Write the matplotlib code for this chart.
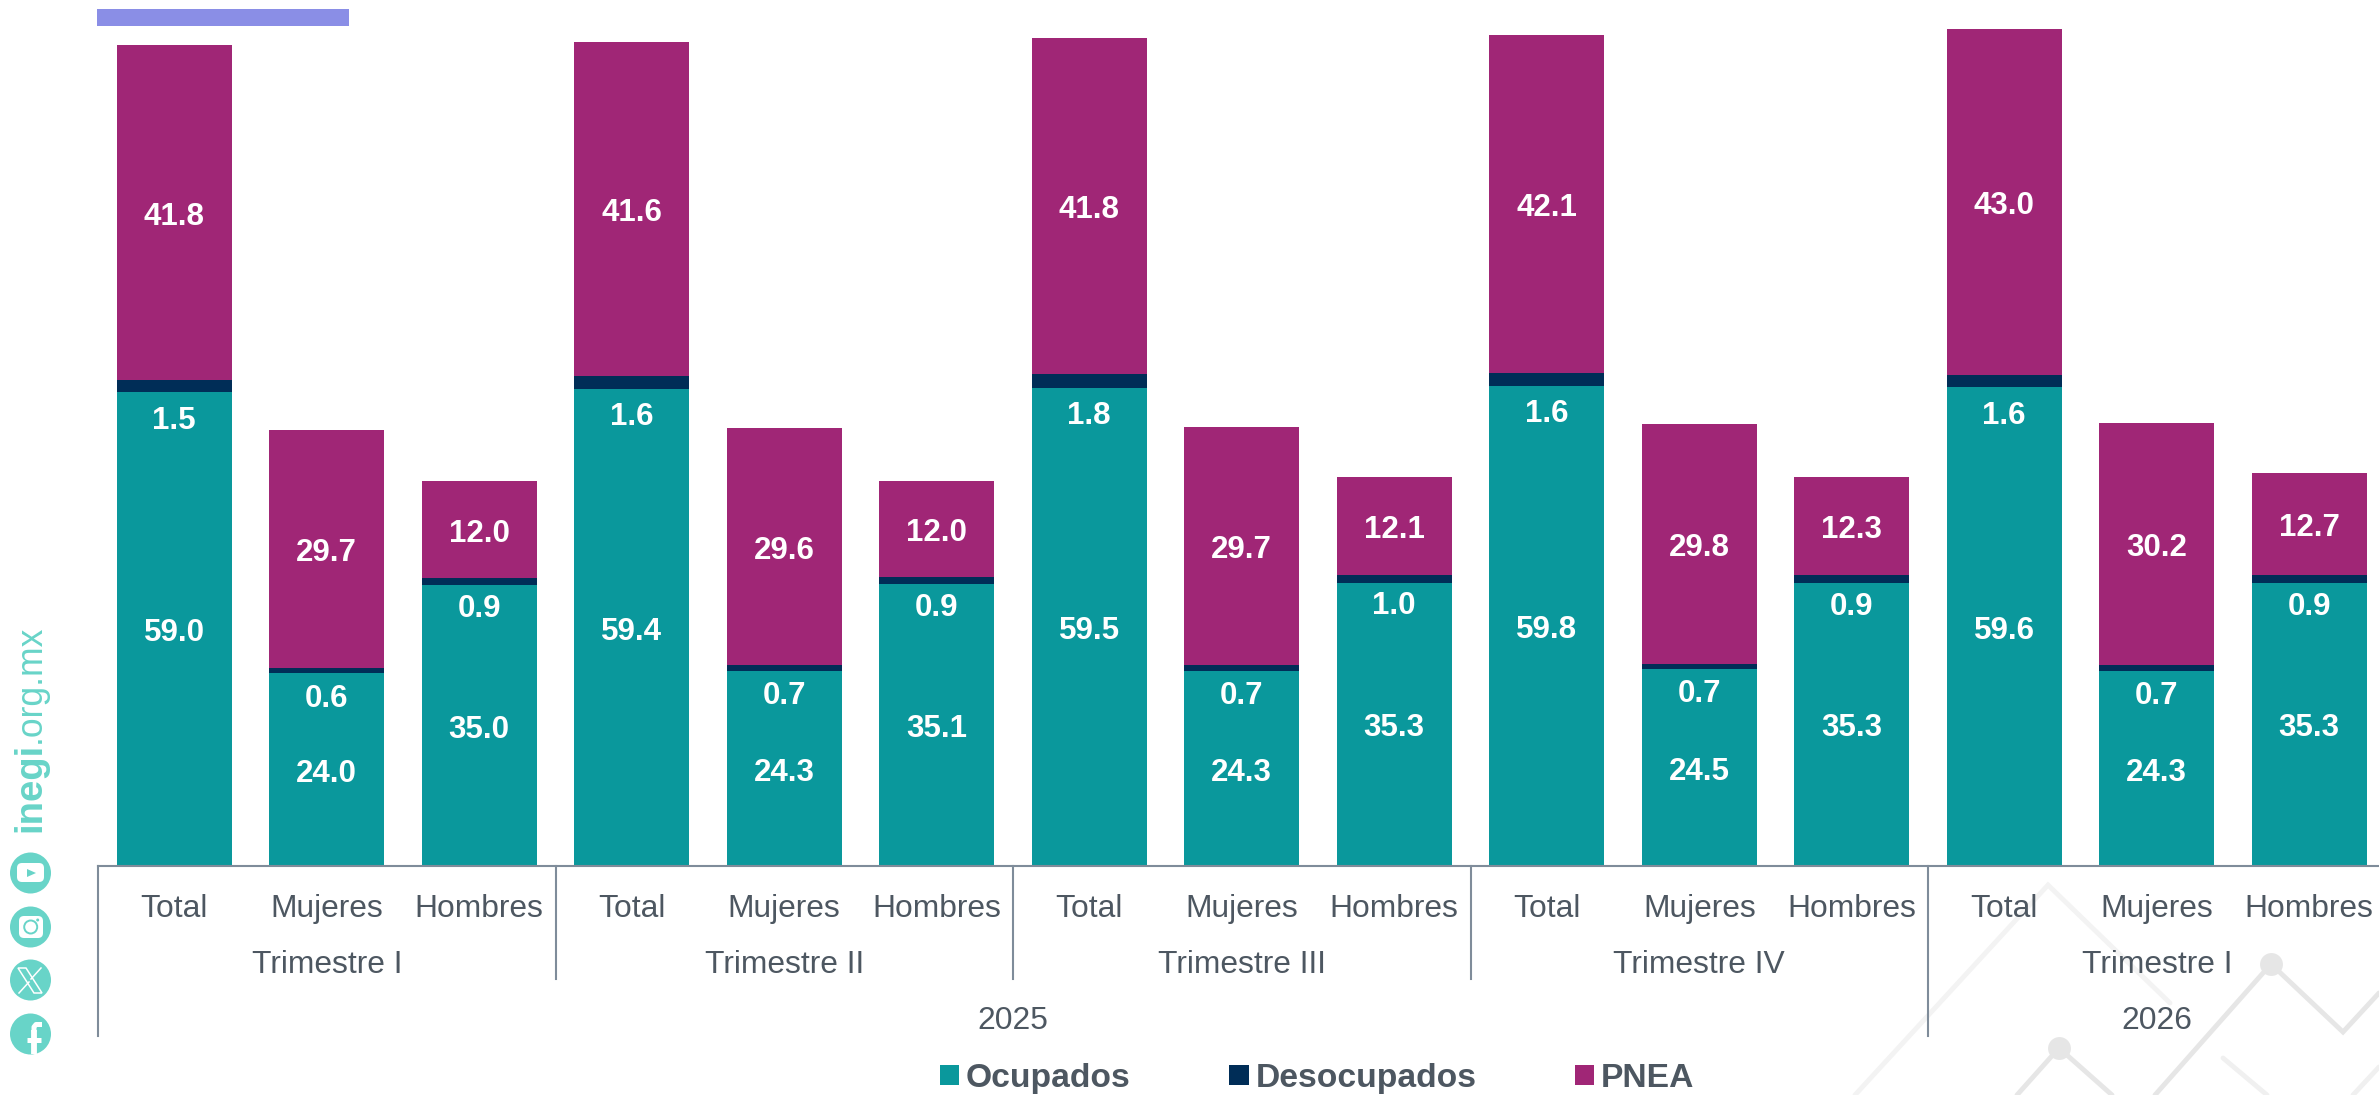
import matplotlib
matplotlib.use("Agg")
import matplotlib.pyplot as plt
from matplotlib.lines import Line2D
from matplotlib.patches import Circle, Rectangle, FancyBboxPatch

plt.rcParams['font.family'] = ['Liberation Sans', 'DejaVu Sans']

W, H = 2379, 1095

CATEGORIES = ["Total", "Mujeres", "Hombres"] * 5
QUARTERS = ["Trimestre I", "Trimestre II", "Trimestre III", "Trimestre IV", "Trimestre I"]
YEARS = ["2025", "2026"]
YEAR_SPANS = [4, 1]

OCUPADOS = [59.0, 24.0, 35.0, 59.4, 24.3, 35.1, 59.5, 24.3, 35.3, 59.8, 24.5, 35.3, 59.6, 24.3, 35.3]
DESOCUPADOS = [1.5, 0.6, 0.9, 1.6, 0.7, 0.9, 1.8, 0.7, 1.0, 1.6, 0.7, 0.9, 1.6, 0.7, 0.9]
PNEA = [41.8, 29.7, 12.0, 41.6, 29.6, 12.0, 41.8, 29.7, 12.1, 42.1, 29.8, 12.3, 43.0, 30.2, 12.7]

TEAL = "#0A989C"
NAVY = "#002D57"
PURPLE = "#A02676"
TEXT = "#4D5761"
AXIS = "#7F8C9A"
MINT = "#68D4C8"

# pixel layout of the original
STEP = 152.5
LEFT = 98
BASE = 866
PX_PER_UNIT = 8.03


def fx(px):
    return px / W


def fy(py):
    return 1 - py / H


fig = plt.figure(figsize=(W / 100, H / 100), dpi=100)
ax = fig.add_axes([fx(LEFT), fy(BASE), 1 - fx(LEFT), BASE / H])
ax.set_xlim(-0.5, (W - LEFT) / STEP - 0.5)
ax.set_ylim(0, BASE / PX_PER_UNIT)
ax.patch.set_alpha(0)
ax.set_zorder(2)

x = list(range(len(CATEGORIES)))
bottom2 = [a + b for a, b in zip(OCUPADOS, DESOCUPADOS)]
bars1 = ax.bar(x, OCUPADOS, 0.754, color=TEAL, label="Ocupados")
bars2 = ax.bar(x, DESOCUPADOS, 0.754, bottom=OCUPADOS, color=NAVY, label="Desocupados")
bars3 = ax.bar(x, PNEA, 0.754, bottom=bottom2, color=PURPLE, label="PNEA")

lab = dict(color="white", fontsize=22.5, fontweight="bold", ha="center", va="center",
           textcoords="offset points")
for i in x:
    ax.annotate(f"{OCUPADOS[i]:.1f}", (i, OCUPADOS[i] / 2), xytext=(0, -3), **lab)
    ax.annotate(f"{PNEA[i]:.1f}", (i, bottom2[i] + PNEA[i] / 2), xytext=(0, -3), **lab)
    # the thin segment has its label just under it
    off = -25 if CATEGORIES[i] == "Total" else -20
    ax.annotate(f"{DESOCUPADOS[i]:.1f}", (i, OCUPADOS[i] + DESOCUPADOS[i] / 2), xytext=(0, off), **lab)

for s in ["top", "right", "left"]:
    ax.spines[s].set_visible(False)
ax.spines["bottom"].set_color(AXIS)
ax.spines["bottom"].set_linewidth(1.5)
ax.set_yticks([])
ax.set_xticks(x)
ax.set_xticklabels(CATEGORIES, fontsize=22.9, color=TEXT)
ax.tick_params(axis="x", length=0, pad=20)

# multi level axis
for q, name in enumerate(QUARTERS):
    ax.annotate(name, (3 * q + 1, 0), xytext=(0, -(965 - BASE) * 0.72), textcoords="offset points",
                ha="center", va="center", fontsize=22.9, color=TEXT, annotation_clip=False)
start = 0
for year, span in zip(YEARS, YEAR_SPANS):
    ax.annotate(year, (start + (3 * span - 1) / 2, 0), xytext=(0, -(1021 - BASE) * 0.72),
                textcoords="offset points", ha="center", va="center", fontsize=22.9, color=TEXT,
                annotation_clip=False)
    start += 3 * span

year_edges = [0, 12]
for e in range(0, 15, 3):
    px = LEFT + e * STEP
    end = 1036 if e in year_edges else 979
    fig.add_artist(Line2D([fx(px)] * 2, [fy(BASE), fy(end)], color=AXIS, lw=1.5, zorder=1))

handles = [bars1, bars2, bars3]
leg = fig.legend(handles=handles, labels=["Ocupados", "Desocupados", "PNEA"], ncol=3, frameon=False,
                 loc="lower left", bbox_to_anchor=(fx(940), fy(1094)), borderpad=0, borderaxespad=0,
                 handlelength=0.57, handleheight=0.57, handletextpad=0.2, columnspacing=2.94,
                 prop={"size": 24.2, "weight": "bold"}, labelcolor=TEXT)

# accent bar at the top
fig.add_artist(Rectangle((fx(97), fy(26)), 252 / W, 17 / H, transform=fig.transFigure,
                         color="#8A8EE6", lw=0))

# faint background zigzags, lower right
for pts, c in [
    ([(1855, 1095), (2048, 885), (2170, 1003)], "#F3F3F3"),
    ([(2017, 1095), (2059, 1048), (2112, 1095)], "#E6E6E6"),
    ([(2155, 1095), (2271, 964), (2343, 1032), (2379, 993)], "#E6E6E6"),
    ([(2223, 1058), (2267, 1095)], "#F0F0F0"),
    ([(2353, 1095), (2379, 1067)], "#F0F0F0"),
]:
    fig.add_artist(Line2D([fx(p[0]) for p in pts], [fy(p[1]) for p in pts], color=c, lw=3.5,
                          zorder=0, solid_capstyle="round", solid_joinstyle="miter"))
for cx, cy in [(2059, 1048), (2271, 964)]:
    fig.add_artist(Line2D([fx(cx)], [fy(cy)], marker="o", ms=16.5, color="#E6E6E6", mew=0, zorder=0))

# social column at the left
pxax = fig.add_axes([0, 0, 1, 1], zorder=3)
pxax.set_xlim(0, W)
pxax.set_ylim(H, 0)
pxax.axis("off")
pxax.patch.set_alpha(0)
ICON_X = 30.5
for cy in [873, 927, 980, 1034]:
    pxax.add_patch(Circle((ICON_X, cy), 20.5, color=MINT, lw=0))
# youtube
pxax.add_patch(FancyBboxPatch((17, 863), 27, 19, boxstyle="round,pad=0,rounding_size=5", color="white", lw=0))
pxax.fill([27, 27, 36], [869, 877, 873], color=MINT, lw=0)
# instagram
pxax.add_patch(FancyBboxPatch((19, 916), 24, 22, boxstyle="round,pad=0,rounding_size=5", color="white", lw=0))
pxax.add_patch(Circle((30.7, 927), 6.5, fc="none", ec=MINT, lw=1.4))
pxax.add_patch(Circle((37.7, 920), 1.5, color=MINT, lw=0))
# x
pxax.fill([18, 26, 42, 34, 18], [968, 968, 993, 993, 968], fc="none", ec="white", lw=1.1)
pxax.plot([41, 31], [968, 979], color="white", lw=1.1)
pxax.plot([29, 19], [982, 993], color="white", lw=1.1)
# facebook
pxax.plot([34, 34], [1054, 1030], color="white", lw=4.2, solid_capstyle="butt")
pxax.plot([27, 41], [1039.5, 1039.5], color="white", lw=3.6, solid_capstyle="butt")
pxax.plot([34, 34, 36, 42], [1032, 1027, 1024.5, 1024.5], color="white", lw=3.6, solid_capstyle="butt")

pxax.text(40, 832, "inegi", color=MINT, fontsize=27.5, fontweight="bold", rotation=90,
          rotation_mode="anchor", ha="left", va="baseline")
pxax.text(40, 743, ".org.mx", color=MINT, fontsize=25.6, rotation=90,
          rotation_mode="anchor", ha="left", va="baseline")

fig.savefig("out.png", dpi=100)
